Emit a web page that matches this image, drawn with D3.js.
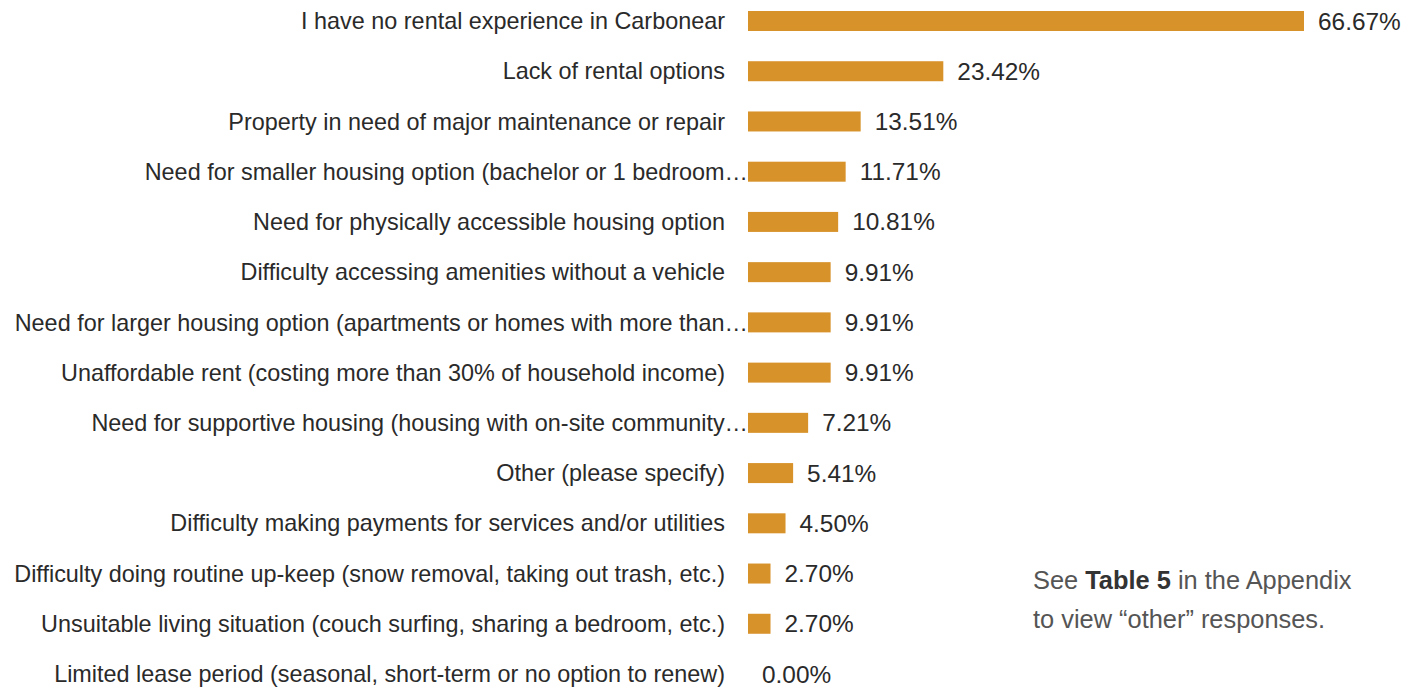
<!DOCTYPE html>
<html>
<head>
<meta charset="utf-8">
<script src="https://cdn.jsdelivr.net/npm/d3@7"></script>
<style>
  html, body { margin: 0; padding: 0; background: #fff; }
  svg { display: block; }
</style>
</head>
<body>
<div id="chart"></div>
<script>
// ── Data ──────────────────────────────────────────────
const categories = [
  'I have no rental experience in Carbonear',
  'Lack of rental options',
  'Property in need of major maintenance or repair',
  'Need for smaller housing option (bachelor or 1 bedroom…',
  'Need for physically accessible housing option',
  'Difficulty accessing amenities without a vehicle',
  'Need for larger housing option (apartments or homes with more than…',
  'Unaffordable rent (costing more than 30% of household income)',
  'Need for supportive housing (housing with on-site community…',
  'Other (please specify)',
  'Difficulty making payments for services and/or utilities',
  'Difficulty doing routine up-keep (snow removal, taking out trash, etc.)',
  'Unsuitable living situation (couch surfing, sharing a bedroom, etc.)',
  'Limited lease period (seasonal, short-term or no option to renew)'
];
const values = [66.67, 23.42, 13.51, 11.71, 10.81, 9.91, 9.91, 9.91, 7.21, 5.41, 4.50, 2.70, 2.70, 0.00];

const W = 1419, H = 690;
const font = '"Liberation Sans", Helvetica, Arial, sans-serif';

const svg = d3.select('#chart').append('svg')
  .attr('width', W).attr('height', H);

// ── Scales ────────────────────────────────────────────
const x = d3.scaleLinear().domain([0, 66.67]).range([748, 1304]);
const y = d3.scalePoint().domain(categories).range([21, 674]);
const barH = 20;

const rows = categories.map((c, i) => ({ label: c, value: values[i] }));

// ── Bars ──────────────────────────────────────────────
svg.selectAll('.bar')
  .data(rows)
  .join('rect')
  .attr('class', 'bar')
  .attr('x', x(0))
  .attr('y', d => y(d.label) - barH / 2)
  .attr('width', d => x(d.value) - x(0))
  .attr('height', barH)
  .attr('fill', '#d8922a');

// ── Category labels (truncated ones run up to the bar) ─
svg.selectAll('.cat')
  .data(rows)
  .join('text')
  .attr('class', 'cat')
  .attr('x', d => d.label.endsWith('…') ? 748 : 725)
  .attr('y', d => y(d.label))
  .attr('dy', '0.35em')
  .attr('text-anchor', 'end')
  .attr('font-family', font)
  .attr('font-size', 23.4)
  .attr('fill', '#2a2a2a')
  .text(d => d.label);

// ── Value labels ──────────────────────────────────────
svg.selectAll('.val')
  .data(rows)
  .join('text')
  .attr('class', 'val')
  .attr('x', d => x(d.value) + 14)
  .attr('y', d => y(d.label))
  .attr('dy', '0.35em')
  .attr('font-family', font)
  .attr('font-size', 24.4)
  .attr('fill', '#2a2a2a')
  .text(d => d.value.toFixed(2) + '%');

// ── Note ──────────────────────────────────────────────
const note = svg.append('text')
  .attr('font-family', font)
  .attr('font-size', 25.4)
  .attr('fill', '#555');
const l1 = note.append('tspan').attr('x', 1033).attr('y', 589);
l1.append('tspan').text('See ');
l1.append('tspan').attr('font-weight', 'bold').attr('fill', '#333').text('Table 5');
l1.append('tspan').text(' in the Appendix');
note.append('tspan').attr('x', 1033).attr('y', 628).text('to view “other” responses.');
</script>
</body>
</html>
